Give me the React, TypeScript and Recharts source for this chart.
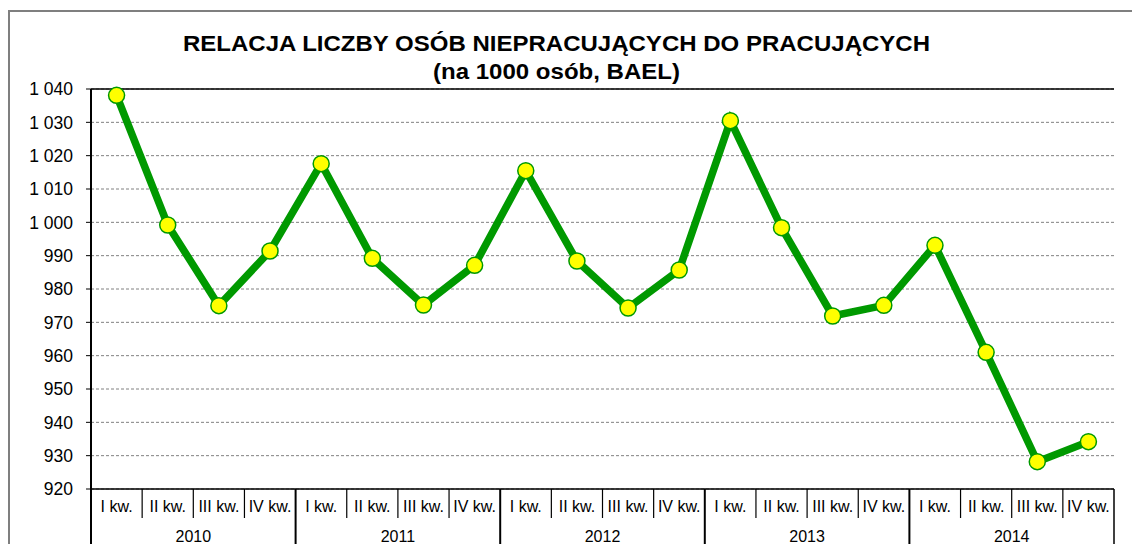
import React from 'react';
import { LineChart, Line, XAxis, YAxis, CartesianGrid, ReferenceLine } from 'recharts';

// Relacja liczby osób niepracujących do pracujących (na 1000 osób, BAEL)
const years = ['2010', '2011', '2012', '2013', '2014'];
const quarters = ['I kw.', 'II kw.', 'III kw.', 'IV kw.'];
const ratio = [
  1038.1, 999.2, 975.0, 991.4,
  1017.6, 989.2, 975.2, 987.1,
  1015.5, 988.4, 974.3, 985.7,
  1030.5, 998.4, 971.9, 975.1,
  993.1, 961.0, 928.2, 934.2,
];
const yTicks = [920, 930, 940, 950, 960, 970, 980, 990, 1000, 1010, 1020, 1030, 1040];

const WIDTH = 1132;
const HEIGHT = 544;
const MARGIN = { top: 89, right: 18, left: 0, bottom: 0 };
const Y_AXIS_W = 91;
const X_AXIS_H = 55;
const BAND = (WIDTH - MARGIN.left - MARGIN.right - Y_AXIS_W) / ratio.length;

const FONT = '"Liberation Sans", Arial, sans-serif';
const GREEN = '#009900';

const data = ratio.map((value, i) => ({
  key: `${years[Math.floor(i / 4)]} ${quarters[i % 4]}`,
  quarter: quarters[i % 4],
  year: years[Math.floor(i / 4)],
  value,
}));

const fmt = (v: number) => String(v).replace(/\B(?=(\d{3})+(?!\d))/g, ' ');

function QuarterTick(props: any) {
  const { x, y, index } = props;
  const row = data[index];
  if (!row) return null;
  const left = x - BAND / 2;
  const right = x + BAND / 2;
  const yearStart = index % 4 === 0;
  const last = index === data.length - 1;
  return (
    <g>
      <line x1={left} x2={left} y1={y} y2={yearStart ? y + X_AXIS_H : y + 29} stroke="#000" strokeWidth={yearStart ? 2 : 1.2} />
      {last && <line x1={right} x2={right} y1={y} y2={y + X_AXIS_H} stroke="#000" strokeWidth={1.5} />}
      <text x={x} y={y + 23} textAnchor="middle" fontSize={16} fontFamily={FONT} fill="#000">
        {row.quarter}
      </text>
      {index % 4 === 1 && (
        <text x={right} y={y + 53} textAnchor="middle" fontSize={16} fontFamily={FONT} fill="#000">
          {row.year}
        </text>
      )}
    </g>
  );
}

export default function App() {
  return (
    <div style={{ position: 'absolute', left: 0, top: 0, width: WIDTH, height: HEIGHT, overflow: 'hidden', background: '#fff' }}>
      <div
        style={{
          position: 'absolute',
          left: 8,
          top: 10,
          width: WIDTH,
          height: HEIGHT,
          borderLeft: '2px solid #7f7f7f',
          borderTop: '2px solid #7f7f7f',
        }}
      />
      <svg width={WIDTH} height={HEIGHT} style={{ position: 'absolute', left: 0, top: 0 }}>
        <text x={556.5} y={51} textAnchor="middle" fontSize={22} fontWeight="bold" fontFamily={FONT} textLength={747} lengthAdjust="spacingAndGlyphs">
          RELACJA LICZBY OSÓB NIEPRACUJĄCYCH DO PRACUJĄCYCH
        </text>
        <text x={556.5} y={79} textAnchor="middle" fontSize={22} fontWeight="bold" fontFamily={FONT} textLength={247} lengthAdjust="spacingAndGlyphs">
          (na 1000 osób, BAEL)
        </text>
      </svg>
      <div style={{ position: 'absolute', left: 0, top: 0 }}>
        <LineChart width={WIDTH} height={HEIGHT} data={data} margin={MARGIN}>
          <CartesianGrid vertical={false} stroke="#808080" strokeDasharray="3 2" />
          <XAxis
            dataKey="key"
            interval={0}
            height={X_AXIS_H}
            padding={{ left: BAND / 2, right: BAND / 2 }}
            tickSize={0}
            tickMargin={0}
            tickLine={false}
            axisLine={{ stroke: '#000', strokeWidth: 1.5 }}
            tick={<QuarterTick />}
          />
          <YAxis
            width={Y_AXIS_W}
            domain={[920, 1040]}
            ticks={yTicks}
            interval={0}
            tickFormatter={fmt}
            tickSize={5}
            tickMargin={13}
            axisLine={{ stroke: '#000', strokeWidth: 2 }}
            tickLine={{ stroke: '#000' }}
            tick={{ fill: '#000', fontSize: 17.5, fontFamily: FONT }}
          />
          <YAxis
            yAxisId="right"
            orientation="right"
            width={0}
            domain={[920, 1040]}
            tick={false}
            tickLine={false}
            axisLine={{ stroke: '#000', strokeWidth: 1.5 }}
          />
          <ReferenceLine y={1040} stroke="#000" strokeWidth={1.5} />
          <Line
            type="linear"
            dataKey="value"
            stroke={GREEN}
            strokeWidth={7.5}
            dot={{ r: 8, fill: '#ffff00', stroke: GREEN, strokeWidth: 1.5 }}
            activeDot={false}
            isAnimationActive={false}
          />
        </LineChart>
      </div>
    </div>
  );
}
